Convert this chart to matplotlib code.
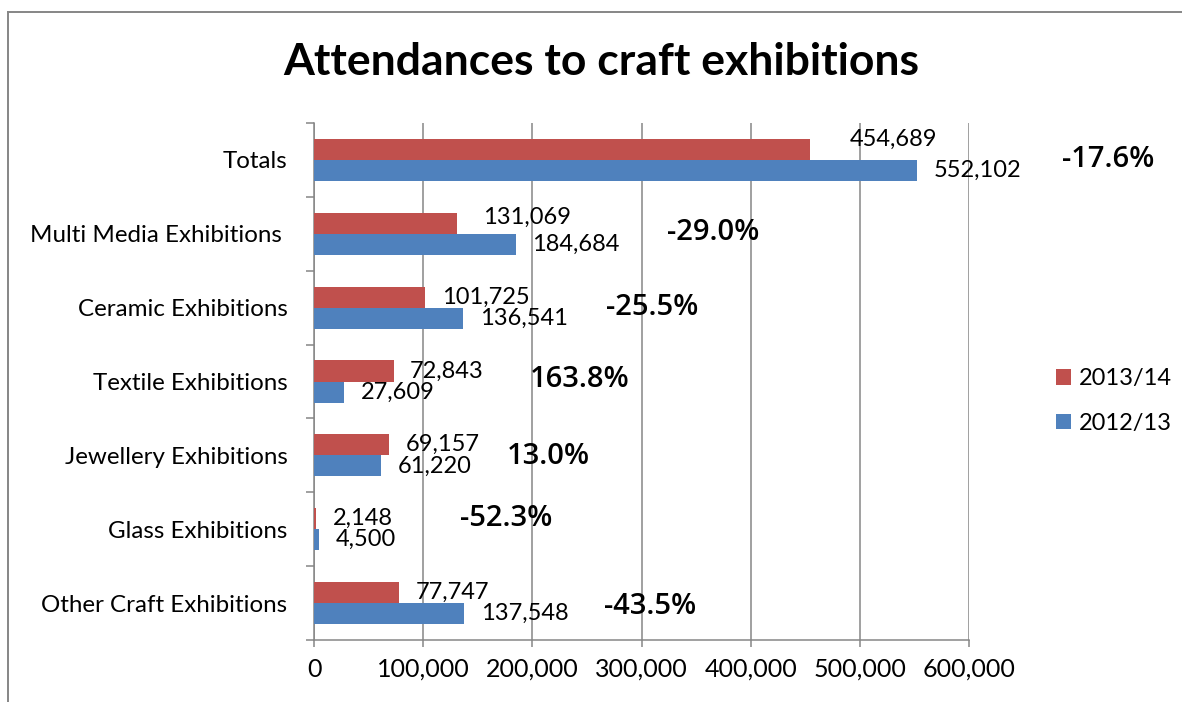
import matplotlib
matplotlib.use('Agg')
import matplotlib.pyplot as plt
from matplotlib.lines import Line2D
from matplotlib.ticker import FuncFormatter, MultipleLocator
import numpy as np

categories = ['Totals', 'Multi Media Exhibitions ', 'Ceramic Exhibitions',
              'Textile Exhibitions', 'Jewellery Exhibitions', 'Glass Exhibitions',
              'Other Craft Exhibitions']
att_1314 = [454689, 131069, 101725, 72843, 69157, 2148, 77747]
att_1213 = [552102, 184684, 136541, 27609, 61220, 4500, 137548]

# label nudges (points): gap after bar end, lift above bar centre
gap_1314 = [28, 19, 12, 12, 12, 12, 12]
lift_1314 = [7, 4, 0, 0, 0, 0, 0]
gap_1213 = [12, 12, 12, 12, 12, 12, 12]

# hand-placed change boxes (x in attendances, y in category rows)
pct_x = [727800, 365500, 309600, 243700, 214400, 175800, 307800]
pct_y = [0.0, 0.98, 2.0, 2.97, 4.02, 4.85, 6.04]

RED, BLUE, GREY = '#C0504D', '#4F81BD', '#868686'
plt.rcParams['font.family'] = ['Lato', 'DejaVu Sans']

fig = plt.figure(figsize=(11.82, 7.02), dpi=100)
ax = fig.add_axes([314 / 1182, 62 / 702, 655 / 1182, 517 / 702])

y = np.arange(len(categories))
h = 0.285
ax.barh(y - h / 2, att_1314, height=h, color=RED, label='2013/14', zorder=3)
ax.barh(y + h / 2, att_1213, height=h, color=BLUE, label='2012/13', zorder=3)

for i in range(len(categories)):
    ax.annotate(f'{att_1314[i]:,}', (att_1314[i], y[i] - h / 2),
                xytext=(gap_1314[i], lift_1314[i]), textcoords='offset points',
                ha='left', va='center', fontsize=17, zorder=4)
    ax.annotate(f'{att_1213[i]:,}', (att_1213[i], y[i] + h / 2),
                xytext=(gap_1213[i], 0), textcoords='offset points',
                ha='left', va='center', fontsize=17, zorder=4)
    change = (att_1314[i] - att_1213[i]) / att_1213[i] * 100
    ax.text(pct_x[i], pct_y[i], f'{change:.1f}%', ha='center', va='center',
            fontsize=21, fontfamily='Open Sans', fontweight='semibold',
            clip_on=False, zorder=5)

ax.set_xlim(0, 600000)
ax.set_ylim(len(categories) - 0.5, -0.5)
ax.xaxis.set_major_locator(MultipleLocator(100000))
ax.xaxis.set_major_formatter(FuncFormatter(lambda v, p: f'{v:,.0f}'))
ax.set_yticks(y)
ax.set_yticklabels(categories)
ax.set_yticks(np.arange(-0.5, len(categories)), minor=True)

ax.grid(axis='x', color=GREY, linewidth=1.1, zorder=0)
for side in ('top', 'right'):
    ax.spines[side].set_visible(False)
for side in ('left', 'bottom'):
    ax.spines[side].set_color(GREY)
    ax.spines[side].set_linewidth(1.1)
ax.tick_params(axis='y', which='major', length=0, pad=19, labelsize=17.4)
ax.tick_params(axis='y', which='minor', length=6, width=1.1, color=GREY)
ax.tick_params(axis='x', length=5, width=1.1, color=GREY, pad=8, labelsize=18)

handles, labels = ax.get_legend_handles_labels()
fig.legend(handles, labels, loc='center left', bbox_to_anchor=(1056 / 1182, 1 - 401 / 702),
           frameon=False, fontsize=17, handlelength=0.65, handleheight=0.65,
           handletextpad=0.3, labelspacing=1.0, borderpad=0, borderaxespad=0)

fig.text(601 / 1182, 1 - 62 / 702, 'Attendances to craft exhibitions', ha='center',
         va='center', fontsize=32, fontweight='bold')

# outer chart frame
fig.add_artist(Line2D([7.5 / 1182, 1], [1 - 11.5 / 702] * 2, color=GREY, lw=1.4))
fig.add_artist(Line2D([7.5 / 1182] * 2, [0, 1 - 11.5 / 702], color=GREY, lw=1.4))

fig.savefig('out.png', dpi=100)
